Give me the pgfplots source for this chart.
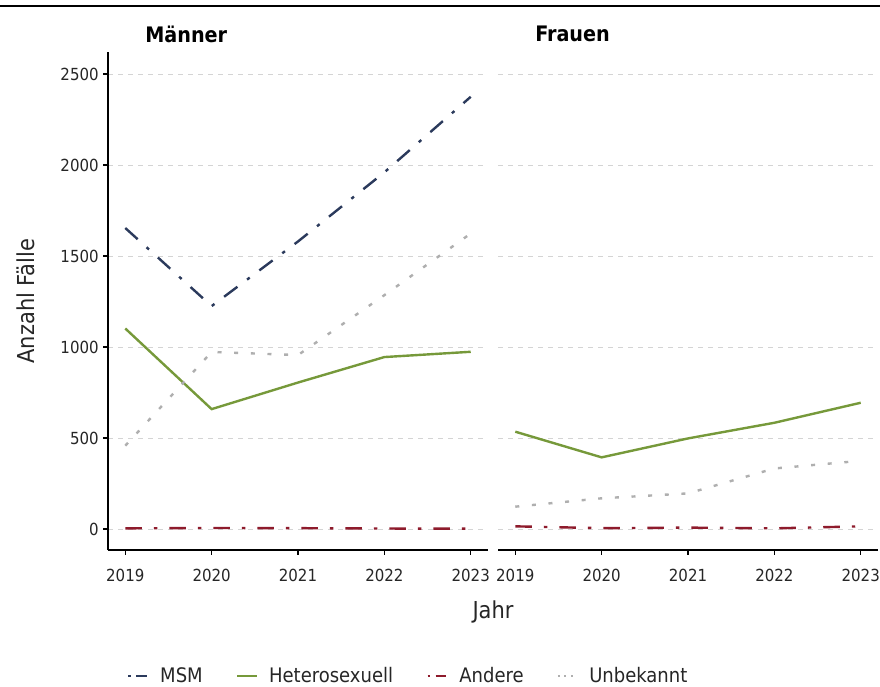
\documentclass[border=0pt]{standalone}
\usepackage{pgfplots}
\pgfplotsset{compat=1.18}
\usepackage{fontspec}
\setmainfont{DejaVu Sans Condensed}
\definecolor{msm}{HTML}{2B3A5C}
\definecolor{het}{HTML}{76993A}
\definecolor{and}{HTML}{8E1B2C}
\definecolor{unb}{HTML}{AFAFAF}
\definecolor{gridc}{HTML}{D4D4D4}
\pgfplotsset{
  panel/.style={
    scale only axis, width=285pt, height=373.5pt,
    xmin=2018.8, xmax=2023.2, ymin=-115, ymax=2621,
    xtick={2019,2020,2021,2022,2023},
    ytick={0,500,1000,1500,2000,2500},
    /pgf/number format/assume math mode=true,
    /pgf/number format/1000 sep={},
    ticklabel style={font=\fontsize{12.5}{14}\selectfont, text=black!85},
    xticklabel style={yshift=-7pt},
    tick align=outside, major tick length=3.5pt,
    tick style={black, line width=1pt},
    axis x line*=bottom, axis y line*=left,
    axis line style={-, black, line width=1.3pt},
    ymajorgrids=true,
    major grid style={gridc, line width=0.6pt, dash pattern=on 4pt off 3.5pt},
    clip=false,
  },
  sMSM/.style={msm, line width=1.8pt, dash pattern=on 12.5pt off 9pt on 2.5pt off 9pt},
  sHET/.style={het, line width=1.8pt},
  sAND/.style={and, line width=1.8pt, dash pattern=on 12.5pt off 9pt on 2.5pt off 9pt},
  sUNB/.style={unb, line width=1.8pt, dash pattern=on 3pt off 9.5pt},
}
\begin{document}
\begin{tikzpicture}
\path[use as bounding box] (0,0) rectangle (660pt,514.5pt);
\draw[black, line width=2.2pt] (0,510pt) -- (660pt,510pt);

\begin{axis}[panel, at={(81pt,102pt)}, anchor=south west,
  legend columns=4,
  legend style={at={(0.791,-0.253)}, anchor=center, draw=none, fill=none,
    font=\fontsize{15}{17}\selectfont, text=black!85,
    /tikz/every even column/.append style={column sep=23pt},
    /tikz/every odd column/.append style={column sep=6pt}},
  legend image code/.code={\draw[#1] (0pt,0pt) -- (15pt,0pt);},
]
\addplot[sMSM, legend image post style={dash pattern=on 2pt off 4pt on 8pt off 4pt}] coordinates {(2019,1654) (2020,1225) (2021,1580) (2022,1960) (2023,2375)};
\addlegendentry{MSM}
\addplot[sHET] coordinates {(2019,1102) (2020,659) (2021,805) (2022,945) (2023,974)};
\addlegendentry{Heterosexuell}
\addplot[sAND, legend image post style={dash pattern=on 2pt off 4pt on 8pt off 4pt}] coordinates {(2019,4) (2020,6) (2021,5) (2022,3) (2023,2)};
\addlegendentry{Andere}
\addplot[sUNB, legend image post style={dash pattern=on 1.5pt off 3.5pt, line width=1.2pt}] coordinates {(2019,458) (2020,973) (2021,956) (2022,1285) (2023,1624)};
\addlegendentry{Unbekannt}
\end{axis}

\begin{axis}[panel, at={(373.5pt,102pt)}, anchor=south west,
  y axis line style={draw=none}, ytick style={draw=none}, yticklabels={},
]
\addplot[sHET] coordinates {(2019,535) (2020,394) (2021,498) (2022,584) (2023,694)};
\addplot[sAND] coordinates {(2019,15) (2020,5) (2021,8) (2022,4) (2023,15)};
\addplot[sUNB] coordinates {(2019,123) (2020,169) (2021,196) (2022,333) (2023,375)};
\end{axis}

\node[anchor=west, inner sep=0pt, font=\bfseries\fontsize{16}{19}\selectfont] at (108.75pt,489pt) {Männer};
\node[anchor=west, inner sep=0pt, font=\bfseries\fontsize{16}{19}\selectfont] at (401.25pt,489pt) {Frauen};
\node[rotate=90, inner sep=0pt, font=\fontsize{17.5}{20}\selectfont, text=black!85] at (19.5pt,288.75pt) {Anzahl Fälle};
\node[inner sep=0pt, font=\fontsize{17.5}{20}\selectfont, text=black!85] at (369.75pt,55.5pt) {Jahr};
\end{tikzpicture}
\end{document}
